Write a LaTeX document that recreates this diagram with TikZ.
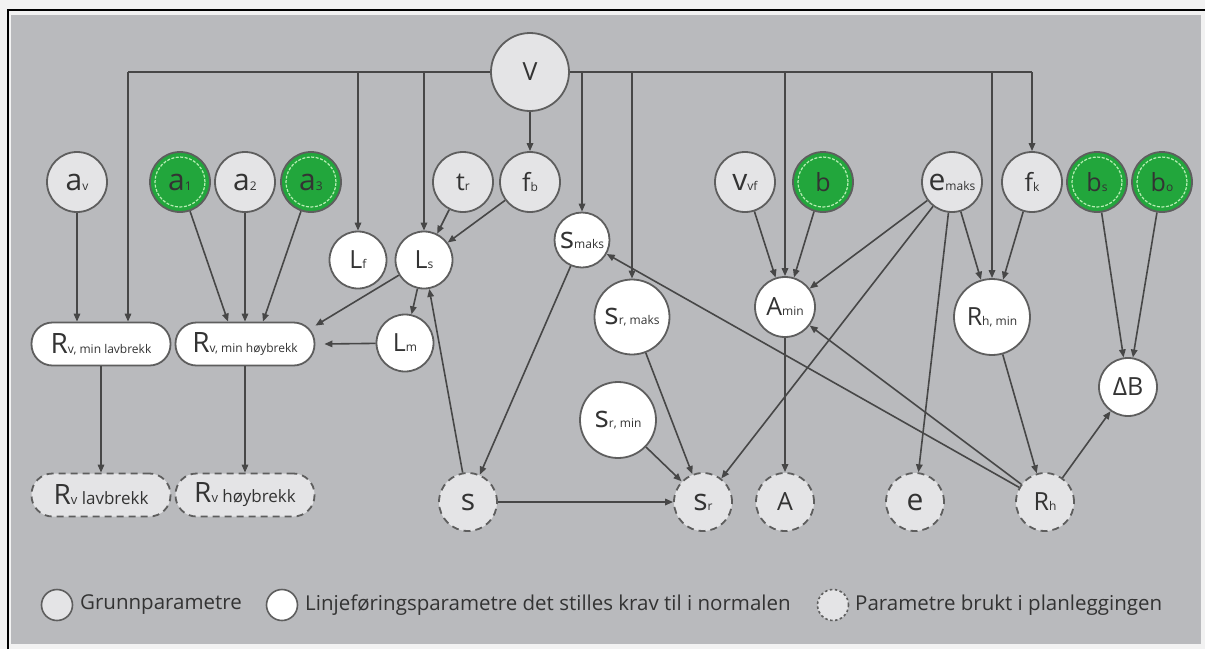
\documentclass[tikz,border=0pt]{standalone}
\usepackage{fontspec}
\setmainfont{Open Sans}
\usetikzlibrary{arrows.meta,calc}
\definecolor{bg}{HTML}{B9BABD}
\definecolor{page}{HTML}{F2F2F2}
\definecolor{gnode}{HTML}{E4E4E6}
\definecolor{edgec}{HTML}{474747}
\definecolor{bord}{HTML}{5E5E5E}
\definecolor{grn}{HTML}{22A63C}
\definecolor{grnring}{HTML}{B8EEB4}
\definecolor{txt}{HTML}{333333}
\newcommand\lo[2]{{\fontsize{30}{30}\selectfont #1}{\fontsize{12}{12}\selectfont #2}}
\newcommand\hi[2]{{\fontsize{25}{25}\selectfont #1}{\fontsize{12}{12}\selectfont #2}}
\tikzset{
 par/.style={circle, draw=bord, line width=1.8pt, fill=gnode, inner sep=0pt, minimum size=60pt, text=txt},
 req/.style={circle, draw=bord, line width=1.8pt, fill=white, inner sep=0pt, minimum size=58pt, text=txt},
 grnpar/.style={par, fill=grn, path picture={\draw[grnring, line width=1.2pt, dash pattern=on 3pt off 1.5pt] (path picture bounding box.center) circle (25pt);}},
 plan/.style={circle, draw=bord, line width=1.8pt, dash pattern=on 7pt off 5pt, fill=gnode, inner sep=0pt, minimum size=58pt, text=txt},
 reqbox/.style={rectangle, rounded corners=21pt, draw=bord, line width=1.8pt, fill=white, minimum width=139pt, minimum height=43pt, inner sep=0pt, text=txt},
 planbox/.style={reqbox, fill=gnode, dash pattern=on 7pt off 5pt},
 arr/.style={draw=edgec, line width=1.6pt, -{Triangle[length=8pt,width=6.5pt]}},
 ln/.style={draw=edgec, line width=1.6pt},
 legtxt/.style={anchor=west, inner sep=0pt, text=txt, font=\fontsize{20.5}{20.5}\selectfont},
}
\begin{document}
\begin{tikzpicture}[x=1pt,y=-1pt]
\useasboundingbox (0,0) rectangle (1205,649);
\fill[page] (0,0) rectangle (1205,649);
\fill[bg] (11,15) rectangle (1201,644);
\draw[black, line width=1.6pt] (8,649) -- (8,10) -- (1205,10);

% top parameter
\node[par, minimum size=78pt] (V) at (530,72) {{\fontsize{25}{25}\selectfont V}};
% row of basic parameters
\node[par] (av) at (77,182) {\lo{a}{v}};
\node[grnpar] (a1) at (180,182) {\lo{a}{1}};
\node[par] (a2) at (245,182) {\lo{a}{2}};
\node[grnpar] (a3) at (311,182) {\lo{a}{3}};
\node[par] (tr) at (463,182) {\hi{t}{r}};
\node[par] (fb) at (530,182) {\hi{f}{b}};
\node[par] (vvf) at (745,182) {\lo{v}{vf}};
\node[grnpar] (b) at (823,182) {\hi{b}{}};
\node[par] (emaks) at (952,182) {\lo{e}{maks}};
\node[par] (fk) at (1032,182) {\hi{f}{k}};
\node[grnpar] (bs) at (1097,182) {\hi{b}{s}};
\node[grnpar] (bo) at (1162,182) {\hi{b}{o}};
% required parameters
\node[req, minimum size=57pt] (Lf) at (358,260) {\hi{L}{f}};
\node[req, minimum size=57pt] (Ls) at (424,260) {\hi{L}{s}};
\node[req, minimum size=57pt] (Lm) at (405,343) {\hi{L}{m}};
\node[req, minimum size=55pt] (smaks) at (582,240) {\lo{s}{maks}};
\node[req, minimum size=75pt] (srmaks) at (632,317) {\lo{s}{r, maks}};
\node[req, minimum size=76pt] (srmin) at (618,420) {\lo{s}{r, min}};
\node[req, minimum size=60pt] (Amin) at (785,307) {\hi{A}{min}};
\node[req, minimum size=76pt] (Rhmin) at (992,317) {\hi{R}{h, min}};
\node[req, minimum size=58pt] (dB) at (1128,387) {{\fontsize{25}{25}\selectfont ΔB}};
\node[reqbox] (lav) at (101,344) {{\fontsize{28}{28}\selectfont R}{\fontsize{12}{12}\selectfont v, min lavbrekk}};
\node[reqbox] (hb) at (245,344) {{\fontsize{28}{28}\selectfont R}{\fontsize{12}{12}\selectfont v, min høybrekk}};
% planning parameters
\node[planbox] (Rvl) at (101,495) {{\fontsize{28}{28}\selectfont R}{\fontsize{13}{13}\selectfont v}{\fontsize{17}{17}\selectfont\ lavbrekk}};
\node[planbox] (Rvh) at (245,495) {{\fontsize{28}{28}\selectfont R}{\fontsize{13}{13}\selectfont v}{\fontsize{17}{17}\selectfont\ høybrekk}};
\node[plan] (s) at (468,502) {\lo{s}{}};
\node[plan] (sr) at (703,502) {\lo{s}{r}};
\node[plan] (A) at (785,502) {\hi{A}{}};
\node[plan] (e) at (915,502) {\lo{e}{}};
\node[plan] (Rh) at (1045,502) {\hi{R}{h}};

\coordinate (tl) at (128,72);
\coordinate (trc) at (1032,72);

% connectors from V
\draw[ln] (tl) -- (V.west) (V.east) -- (trc);
\draw[arr] (tl) -- (tl |- lav.north);
\draw[arr] (trc) -- (fk);
\foreach \n in {Lf,Ls,smaks,srmaks,Amin,Rhmin} \draw[arr] (\n |- tl) -- (\n);
\draw[arr] (V) -- (fb);

% left part
\draw[arr] (av) -- (av |- lav.north);
\draw[arr] (a1) -- ([xshift=-17pt]hb.north);
\draw[arr] (a2) -- (hb.north);
\draw[arr] (a3) -- ([xshift=18pt]hb.north);
\draw[arr] (Ls) -- ([yshift=-4pt]hb.north east);
\draw[arr] (Lm) -- ([xshift=9pt]hb.east);
\draw[arr] (Ls) -- (Lm);
\draw[arr] (s) -- (Ls);
\draw[arr] (tr) -- (Ls);
\draw[arr] (fb) -- (Ls);
\draw[arr] (lav) -- (Rvl);
\draw[arr] (hb) -- (Rvh);

% middle part
\draw[arr] (smaks) -- (s);
\draw[arr] (s) -- (sr);
\draw[arr] (srmaks) -- (sr);
\draw[arr] (srmin) -- (sr);
\draw[arr] (emaks) -- (sr);
\draw[arr] (Amin) -- (A);
\draw[arr] (vvf) -- (Amin);
\draw[arr] (b) -- (Amin);
\draw[arr] (emaks) -- (Amin);
\draw[arr] (Rh) -- (Amin);
\draw[arr] (Rh) -- (smaks);

% right part
\draw[arr] (emaks) -- (e);
\draw[arr] (emaks) -- (Rhmin);
\draw[arr] (fk) -- (Rhmin);
\draw[arr] (Rhmin) -- (Rh);
\draw[arr] (Rh) -- (dB);
\draw[arr] (bs) -- (dB);
\draw[arr] (bo) -- (dB);

% legend
\node[par, minimum size=31pt, line width=1.6pt] (lg1) at (57,605) {};
\node[legtxt] (lt1) at (80,605) {Grunnparametre};
\node[req, minimum size=31pt, line width=1.6pt] (lg2) at (282,605) {};
\node[legtxt] (lt2) at (305,605) {Linjeføringsparametre det stilles krav til i normalen};
\node[par, minimum size=31pt, line width=1.6pt, dash pattern=on 2.5pt off 2.5pt] (lg3) at (833,605) {};
\node[legtxt] (lt3) at (855,605) {Parametre brukt i planleggingen};
\end{tikzpicture}
\end{document}
